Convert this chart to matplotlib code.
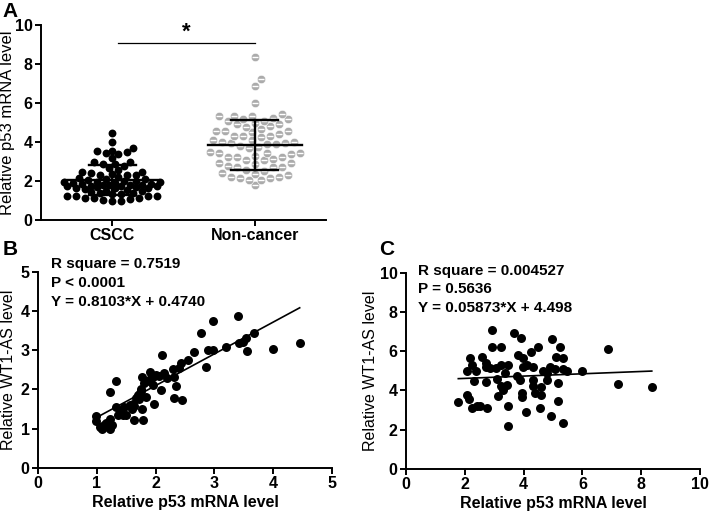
import matplotlib
matplotlib.use("Agg")
import matplotlib.pyplot as plt
import numpy as np

plt.rcParams['font.family'] = ['Liberation Sans', 'DejaVu Sans']
plt.rcParams['font.weight'] = 'bold'

# ---- data ----
# panel B: CSCC samples, p53 (x) vs WT1-AS (y)
cscc_p53 = [0.99, 0.99, 1.09, 1.22, 1.15, 1.22, 1.23, 1.33, 1.33, 1.36,
            1.44, 1.47, 1.56, 1.64, 1.64, 1.79, 1.77, 1.67, 1.73, 1.76,
            1.77, 1.81, 1.84, 1.90, 1.90, 1.96, 1.98, 2.01, 2.10, 2.11,
            2.14, 2.30, 2.32, 2.34, 2.32, 2.45, 2.44, 2.55, 2.66, 2.77,
            2.86, 2.89, 2.98, 2.98, 3.20, 3.40, 3.42, 3.48, 3.54, 3.55,
            3.67, 3.99, 4.45, 1.05, 1.13, 1.50, 1.62, 1.70, 1.72, 1.85,
            1.93, 2.05, 1.12, 1.25, 1.60, 1.75, 2.40, 2.20, 1.95, 1.40]
cscc_wt1 = [1.32, 1.20, 0.99, 0.99, 1.13, 1.24, 1.92, 2.22, 1.54, 1.34,
            1.34, 1.56, 1.60, 1.58, 1.22, 1.22, 1.50, 1.77, 1.90, 2.02,
            2.32, 2.15, 1.81, 2.24, 2.45, 2.32, 1.62, 2.36, 1.98, 2.87,
            2.41, 2.53, 2.32, 2.08, 1.77, 1.74, 2.66, 2.76, 2.96, 3.43,
            2.56, 3.00, 3.00, 3.75, 3.07, 3.87, 3.17, 3.21, 3.32, 2.98,
            3.43, 3.03, 3.17, 1.05, 1.05, 1.35, 1.62, 1.85, 1.75, 2.20,
            2.30, 2.35, 1.10, 1.10, 1.50, 1.95, 2.55, 2.30, 2.10, 1.45]

# panel C: non-cancer samples, p53 (x) vs WT1-AS (y)
nc_p53 = [1.78, 2.06, 2.13, 2.06, 2.18, 2.23, 2.23, 2.38, 2.41, 2.51,
          2.57, 2.72, 2.72, 2.72, 2.77, 2.91, 2.91, 3.06, 3.14, 3.22,
          3.22, 3.22, 3.29, 3.37, 3.42, 3.46, 3.46, 3.48, 3.67, 3.82,
          3.90, 3.88, 3.93, 3.93, 3.99, 3.99, 4.08, 4.24, 4.33, 4.33,
          4.31, 4.39, 4.50, 4.58, 4.58, 4.56, 4.78, 4.81, 4.90, 4.93,
          4.95, 5.07, 5.10, 5.18, 5.18, 5.24, 5.33, 5.35, 5.35, 5.46,
          5.98, 6.88, 7.22, 8.36, 2.86, 3.76, 4.67, 3.10, 2.30, 4.10]
nc_wt1 = [3.41, 3.75, 3.56, 4.97, 5.64, 5.31, 3.10, 4.97, 3.22, 3.19,
          5.73, 5.42, 5.22, 4.42, 3.10, 7.08, 6.20, 5.14, 3.73, 6.20,
          5.31, 4.24, 4.03, 4.88, 4.29, 5.31, 3.22, 2.20, 6.95, 5.81,
          6.66, 4.54, 3.86, 3.69, 5.22, 5.64, 2.88, 5.98, 5.22, 4.54,
          4.24, 3.86, 6.20, 4.20, 3.78, 3.10, 4.54, 4.88, 5.22, 2.71,
          6.61, 5.08, 5.73, 4.37, 3.44, 6.20, 2.34, 5.64, 5.08, 4.97,
          4.97, 6.10, 4.32, 4.20, 5.14, 4.75, 4.97, 4.60, 4.50, 5.30]

groups = ["CSCC", "Non-cancer"]
group_mean = [2.05, 3.85]
group_sd = [0.77, 1.28]

fit_b = (0.8103, 0.4740)
fit_c = (0.05873, 4.498)
text_b = ["R square = 0.7519", "P < 0.0001", "Y = 0.8103*X + 0.4740"]
text_c = ["R square = 0.004527", "P = 0.5636", "Y = 0.05873*X + 4.498"]


def swarm(vals, xscale, yscale, step=3.0, diam=8.0, maxw=48.0):
    # greedy beeswarm, returns x offsets in data units
    order = np.argsort(vals)
    placed = []
    offs = np.zeros(len(vals))
    for i in order:
        y = vals[i] * yscale
        best, best_d = 0.0, -1.0
        k = 0
        ok = None
        while k * step <= maxw:
            cands = [0] if k == 0 else [k * step, -k * step]
            for c in cands:
                dmin = min([np.hypot(c - px, y - py) for px, py in placed] or [99])
                if dmin >= diam:
                    ok = c
                    break
                if dmin > best_d:
                    best, best_d = c, dmin
            if ok is not None:
                break
            k += 1
        if ok is None:
            ok = best
        placed.append((ok, y))
        offs[i] = ok / xscale
    return offs


def style_axis(ax):
    for s in ['top', 'right']:
        ax.spines[s].set_visible(False)
    for s in ['left', 'bottom']:
        ax.spines[s].set_linewidth(1.4)
    ax.tick_params(width=1.4, length=4, pad=2, labelsize=11.5)
    for lab in ax.get_xticklabels() + ax.get_yticklabels():
        lab.set_fontweight('bold')


fig = plt.figure(figsize=(7.09, 5.16), dpi=100)

# ---- panel A ----
axA = fig.add_axes([0.0578, 0.5736, 0.402, 0.378])
xs_px, ys_px = 143.0, 19.5
c_off = swarm(np.array(cscc_p53), xs_px, ys_px, diam=6.5)
n_off = swarm(np.array(nc_p53), xs_px, ys_px, diam=8.0)
axA.scatter(0 + c_off, cscc_p53, s=32, color='black', lw=0, zorder=2)
axA.scatter(1 + n_off, nc_p53, s=36, color='#ababab', edgecolor='white', lw=0.4, zorder=2)
axA.scatter(1 + n_off, nc_p53, s=16, marker='_', color='white', lw=1.0, zorder=2)
for i in range(2):
    m, sd = group_mean[i], group_sd[i]
    axA.plot([i - 0.33, i + 0.33], [m, m], color='black', lw=1.7, zorder=3)
    axA.plot([i, i], [m - sd, m + sd], color='black', lw=1.7, zorder=3)
    for v in (m - sd, m + sd):
        axA.plot([i - 0.165, i + 0.165], [v, v], color='black', lw=1.7, zorder=3)
axA.plot([0.04, 1.0], [9.08, 9.08], color='black', lw=0.9)
axA.text(0.52, 9.1, "*", ha='center', va='bottom', fontsize=16, fontweight='bold')
axA.set_xlim(-0.5, 1.5)
axA.set_ylim(0, 10)
axA.set_xticks([0, 1])
axA.set_xticklabels(groups)
axA.set_yticks([0, 2, 4, 6, 8, 10])
axA.set_ylabel("Relative p53 mRNA level", fontsize=12, fontweight='normal')
axA.yaxis.set_label_coords(-0.09, 0.5)
style_axis(axA)
fig.text(0.003, 0.977, "A", fontsize=15, fontweight='bold', va='center')

# ---- panel B ----
axB = fig.add_axes([0.0536, 0.0936, 0.4147, 0.3798])
axB.scatter(cscc_p53, cscc_wt1, s=42, color='black', lw=0, zorder=2)
xb = np.array([min(cscc_p53), max(cscc_p53)])
axB.plot(xb, fit_b[0] * xb + fit_b[1], color='black', lw=1.2)
axB.set_xlim(0, 5)
axB.set_ylim(0, 5)
axB.set_xticks(range(6))
axB.set_yticks(range(6))
axB.set_xlabel("Relative p53 mRNA level", fontsize=11.5, fontweight='bold', labelpad=3)
axB.set_ylabel("Relative WT1-AS level", fontsize=11.5, fontweight='normal')
axB.yaxis.set_label_coords(-0.075, 0.5)
for k, t in enumerate(text_b):
    axB.text(0.045, 1.04 - k * 0.097, t, transform=axB.transAxes, fontsize=11,
             fontweight='bold', va='center')
style_axis(axB)
fig.text(0.003, 0.517, "B", fontsize=15, fontweight='bold', va='center')

# ---- panel C ----
axC = fig.add_axes([0.5726, 0.0911, 0.4147, 0.3804])
axC.scatter(nc_p53, nc_wt1, s=42, color='black', lw=0, zorder=2)
xc = np.array([min(nc_p53), max(nc_p53)])
axC.plot(xc, fit_c[0] * xc + fit_c[1], color='black', lw=1.2)
axC.set_xlim(0, 10)
axC.set_ylim(0, 10)
axC.set_xticks(range(0, 11, 2))
axC.set_yticks(range(0, 11, 2))
axC.set_xlabel("Relative p53 mRNA level", fontsize=11.5, fontweight='bold', labelpad=3)
axC.set_ylabel("Relative WT1-AS level", fontsize=11.5, fontweight='normal')
axC.yaxis.set_label_coords(-0.095, 0.5)
for k, t in enumerate(text_c):
    axC.text(0.04, 1.01 - k * 0.095, t, transform=axC.transAxes, fontsize=11,
             fontweight='bold', va='center')
style_axis(axC)
fig.text(0.535, 0.517, "C", fontsize=15, fontweight='bold', va='center')

fig.savefig("out.png", dpi=100)
